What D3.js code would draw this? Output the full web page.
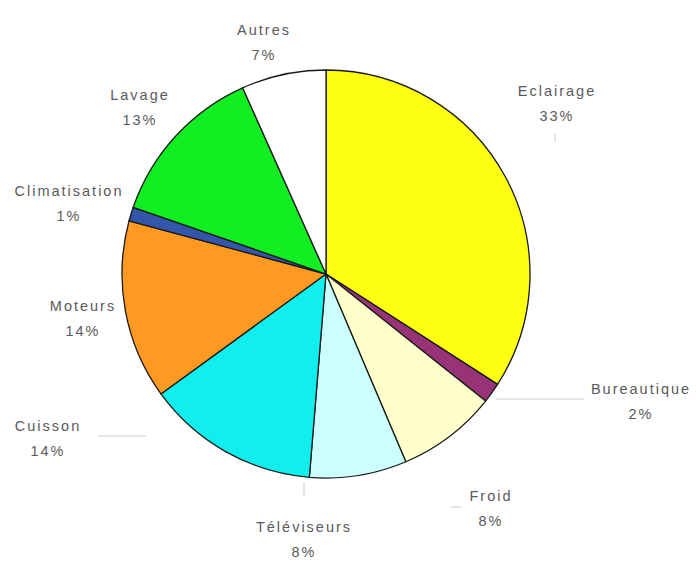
<!DOCTYPE html>
<html>
<head>
<meta charset="utf-8">
<script src="https://cdn.jsdelivr.net/npm/d3@7"></script>
<style>
  body { margin: 0; background: #fff; }
  text { font-family: "Liberation Sans", Arial, sans-serif; font-size: 14.5px; fill: #5a5a5a; letter-spacing: 2px; }
</style>
</head>
<body>
<div id="chart"></div>
<script>
// categories, clockwise from the top
var categories = ["Eclairage", "Bureautique", "Froid", "Téléviseurs", "Cuisson", "Moteurs", "Climatisation", "Lavage", "Autres"];
// shares
var values = [34.1, 1.6, 7.9, 7.7, 13.7, 14.2, 1.1, 13.0, 6.7];
// percentage labels as printed
var pctLabels = ["33%", "2%", "8%", "8%", "14%", "14%", "1%", "13%", "7%"];
var colors = ["#ffff11", "#993377", "#ffffcc", "#ccffff", "#11eeee", "#ff9922", "#3355aa", "#11ee22", "#ffffff"];

var width = 696,
	height = 577;
var cx = 326,
	cy = 274,
	r = 204;

var svg = d3.select("#chart")
	.append("svg")
	.attr("width", width)
	.attr("height", height);

var g = svg.append("g")
	.attr("transform", "translate(" + cx + "," + cy + ")");

var pie = d3.pie().sort(null).value(function(d) { return d; });
var arc = d3.arc().innerRadius(0).outerRadius(r);
var arcs = pie(values);

g.selectAll("path")
	.data(arcs)
	.enter().append("path")
	.attr("d", arc)
	.attr("fill", function(d, i) { return colors[i]; })
	.attr("stroke", "#1a1a1a")
	.attr("stroke-width", 1.3)
	.attr("stroke-linejoin", "round");

// label positions (relative to pie centre), placed as in the picture
var labelPos = [
	[231, -178], [315, 120], [165, 227], [-22, 258], [-278, 157],
	[-243, 37], [-257, -78], [-186, -174], [-62, -239]
];

// faint leader lines
var leaders = [
	[[229, -140], [229, -132]],
	[[170, 125], [258, 125]],
	[[125, 233], [135, 233]],
	[[-22, 208], [-22, 222]],
	[[-228, 162], [-180, 162]]
];
g.selectAll(".leader")
	.data(leaders)
	.enter().append("line")
	.attr("class", "leader")
	.attr("x1", function(d) { return d[0][0]; })
	.attr("y1", function(d) { return d[0][1]; })
	.attr("x2", function(d) { return d[1][0]; })
	.attr("y2", function(d) { return d[1][1]; })
	.attr("stroke", "#cccccc")
	.attr("stroke-width", 1);

var labels = g.selectAll(".lbl")
	.data(arcs)
	.enter().append("text")
	.attr("class", "lbl")
	.attr("text-anchor", "middle")
	.attr("transform", function(d, i) { return "translate(" + labelPos[i][0] + "," + labelPos[i][1] + ")"; });

labels.append("tspan")
	.attr("x", 0)
	.attr("y", 0)
	.text(function(d, i) { return categories[i]; });
labels.append("tspan")
	.attr("x", 0)
	.attr("y", 25)
	.text(function(d, i) { return pctLabels[i]; });
</script>
</body>
</html>
